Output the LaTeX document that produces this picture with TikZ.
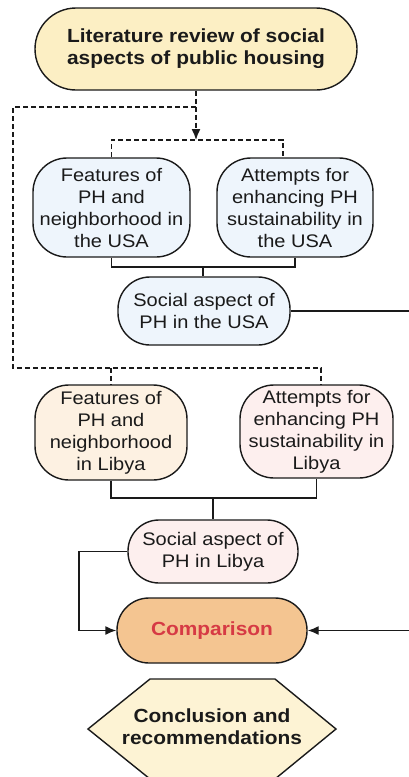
\documentclass[tikz,border=0pt]{standalone}
\usepackage{fontspec}
\setmainfont{Liberation Sans}[FakeStretch=1.1]
\usetikzlibrary{arrows.meta}
\definecolor{topfill}{HTML}{FCEFC4}
\definecolor{usafill}{HTML}{EEF5FC}
\definecolor{libAfill}{HTML}{FDF1E2}
\definecolor{libBfill}{HTML}{FDEFEE}
\definecolor{compfill}{HTML}{F4C591}
\definecolor{compred}{HTML}{D63A44}
\definecolor{hexfill}{HTML}{FDF3D4}
\definecolor{ink}{HTML}{1A1A1A}
\tikzset{
  box/.style={draw=ink, line width=1.4pt, rectangle, inner sep=0pt, align=center,
    font=\fontsize{18.2}{22}\selectfont, text=ink},
  boldtxt/.style={font=\fontsize{19}{22}\selectfont\bfseries},
  tall/.style={box, rounded corners=34pt},
  pill/.style={box, rounded corners=32pt},
  dashln/.style={line width=1.4pt, dash pattern=on 5pt off 3pt, draw=ink},
  solidln/.style={line width=1.4pt, draw=ink},
  tip/.style={-{Latex[length=11pt,width=9pt]}}
}
\begin{document}
\begin{tikzpicture}[x=1pt,y=-1pt]
\useasboundingbox (0,0) rectangle (409,777);

\node[box, boldtxt, rounded corners=41pt, fill=topfill, minimum width=322pt, minimum height=82pt] (top) at (196,49)
  {Literature review of social\\aspects of public housing};

\node[tall, fill=usafill, minimum width=157pt, minimum height=99pt] (usaL) at (111.5,207.5)
  {Features of\\PH and\\neighborhood in\\the USA};
\node[tall, fill=usafill, minimum width=156pt, minimum height=99pt] (usaR) at (295,207.5)
  {Attempts for\\enhancing PH\\sustainability in\\the USA};
\node[pill, fill=usafill, minimum width=172pt, minimum height=68pt] (socU) at (204,311)
  {Social aspect of\\PH in the USA};

\node[tall, fill=libAfill, minimum width=152pt, minimum height=95pt] (libL) at (111,432.5)
  {Features of\\PH and\\neighborhood\\in Libya};
\node[tall, fill=libBfill, minimum width=153pt, minimum height=93pt] (libR) at (316.5,431.5)
  {Attempts for\\enhancing PH\\sustainability in\\Libya};
\node[pill, rounded corners=31pt, fill=libBfill, minimum width=170pt, minimum height=63pt] (socL) at (213,551.5)
  {Social aspect of\\PH in Libya};

\node[pill, boldtxt, fill=compfill, minimum width=190pt, minimum height=65pt, text=compred] (comp) at (212,630.5)
  {Comparison};

\draw[solidln, fill=hexfill] (88,729) -- (150,679) -- (275,679) -- (336,729) -- (275,779) -- (150,779) -- cycle;
\node[align=center, boldtxt, text=ink] (concl) at (212,727)
  {Conclusion and\\recommendations};

% dashed connectors
\coordinate (d1) at (196,107);
\coordinate (d2) at (196,140);
\coordinate (xu) at (283,0);
\coordinate (xr) at (321,0);
\coordinate (xl) at (13,0);
\draw[dashln, tip] (top.south) -- (d2);
\draw[dashln] (usaL.north) -- (usaL.north |- d2) -- (xu |- d2) -- (xu |- usaR.north);
\draw[dashln] (d1) -- (xl |- d1) -- (13,368) -- (xr |- 0,368) -- (xr |- libR.north);
\draw[dashln] (libL.north |- 0,368) -- (libL.north);

% solid connectors
\coordinate (m1) at (203,267);
\draw[solidln] (usaL.south) |- (m1) -| (usaR.south);
\draw[solidln] (m1) -- (m1 |- socU.north);
\coordinate (m2) at (213,498);
\draw[solidln] (libL.south) |- (m2) -| (libR.south);
\draw[solidln] (m2) -- (socL.north);
\coordinate (xw) at (79,0);
\draw[solidln, tip] (socL.west) -- (xw |- socL.west) -- (xw |- comp.west) -- (comp.west);
\coordinate (xe) at (412,0);
\draw[solidln, tip] (socU.east) -- (xe |- socU.east) -- (xe |- comp.east) -- (comp.east);
\end{tikzpicture}
\end{document}
